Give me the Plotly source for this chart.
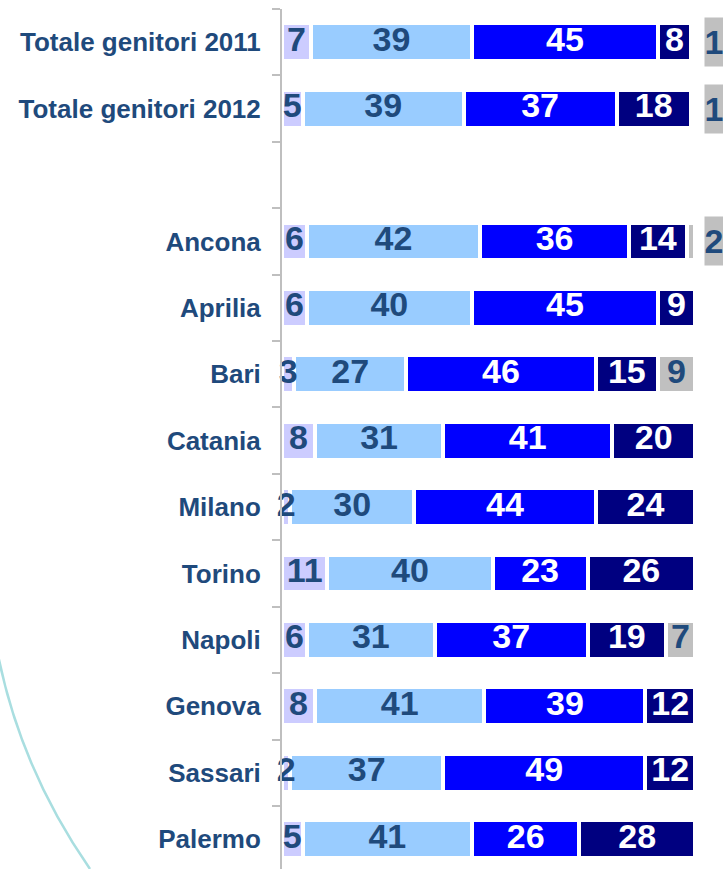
import plotly.graph_objects as go

categories = ["Totale genitori 2011", "Totale genitori 2012", " ",
              "Ancona", "Aprilia", "Bari", "Catania", "Milano", "Torino",
              "Napoli", "Genova", "Sassari", "Palermo"]

s1 = [7, 5, None, 6, 6, 3, 8, 2, 11, 6, 8, 2, 5]          # lavender
s2 = [39, 39, None, 42, 40, 27, 31, 30, 40, 31, 41, 37, 41]  # light blue
s3 = [45, 37, None, 36, 45, 46, 41, 44, 23, 37, 39, 49, 26]  # blue
s4 = [8, 18, None, 14, 9, 15, 20, 24, 26, 19, 12, 12, 28]    # navy
s5 = [1, 1, None, 2, 0, 9, 0, 0, 0, 7, 0, 0, 0]              # gray

series = [s1, s2, s3, s4, s5]
colors = ["#CCCCFF", "#99CCFF", "#0000FF", "#000080", "#C0C0C0"]
txtcol = ["#1F4A7C", "#1F4A7C", "#FFFFFF", "#FFFFFF", "#1F4A7C"]
LABEL = "#1F4A7C"
FONT = "Liberation Sans, Arial, sans-serif"

W, H = 723, 869
ML, MT = 282, 9
PW, PH = W - ML, H - MT

fig = go.Figure()
for vals, c in zip(series, colors):
    fig.add_trace(go.Bar(
        y=categories, x=vals, orientation="h",
        marker=dict(color=c, line=dict(color="white", width=4)),
        width=0.57, showlegend=False, hoverinfo="skip",
    ))

# value labels drawn on top of all bars (centred on each segment)
cum = [0] * len(categories)
for i, (vals, tc) in enumerate(zip(series, txtcol)):
    xs, ys, ts = [], [], []
    for j, v in enumerate(vals):
        if v is None:
            continue
        if v > 0 and not (i == 4 and v < 5):
            xs.append(cum[j] + v / 2)
            ys.append(categories[j])
            ts.append(str(v))
        cum[j] += v
    fig.add_trace(go.Scatter(
        x=xs, y=ys, text=ts, mode="text", cliponaxis=False,
        textfont=dict(family=FONT, size=34, color=tc, weight="bold"),
        textposition="middle center", showlegend=False, hoverinfo="skip",
    ))

# small gray values shown as boxed labels to the right of the bars
for cat, v in zip(categories, s5):
    if v is not None and 0 < v < 5:
        fig.add_annotation(
            x=102.2, y=cat, xref="x", yref="y", xanchor="left", yanchor="middle",
            text=f"<b>{v}</b>", showarrow=False, bgcolor="#C0C0C0",
            width=18, height=48, borderpad=0, align="center",
            font=dict(family=FONT, size=34, color=LABEL),
        )

def px(x, y):
    return (x - ML) / PW, 1 - (y - MT) / PH

p0 = px(-2, 655)
c0 = px(21, 769.5)
p2 = px(90, 869)
fig.add_shape(
    type="path", xref="paper", yref="paper", layer="below",
    path=f"M {p0[0]},{p0[1]} Q {c0[0]},{c0[1]} {p2[0]},{p2[1]}",
    line=dict(color="#A9DEE0", width=2.5),
)

fig.update_layout(
    barmode="stack", bargap=0,
    width=W, height=H,
    margin=dict(l=ML, r=0, t=MT, b=0),
    plot_bgcolor="white", paper_bgcolor="white",
    xaxis=dict(range=[0, PW / 4.13], visible=False, fixedrange=True),
    yaxis=dict(
        categoryorder="array", categoryarray=categories,
        range=[12.45, -0.5], automargin=False, fixedrange=True,
        showline=True, linecolor="#BFBFBF", linewidth=2,
        ticks="outside", tickson="boundaries", ticklen=8, tickcolor="#BFBFBF", tickwidth=2,
        ticklabelstandoff=14,
        tickfont=dict(family=FONT, size=26, color=LABEL, weight="bold"),
        showgrid=False, zeroline=False,
    ),
)

fig.write_html("out.html", config={"displayModeBar": False},
               post_script="document.body.style.margin='0';document.body.style.overflow='hidden';")
